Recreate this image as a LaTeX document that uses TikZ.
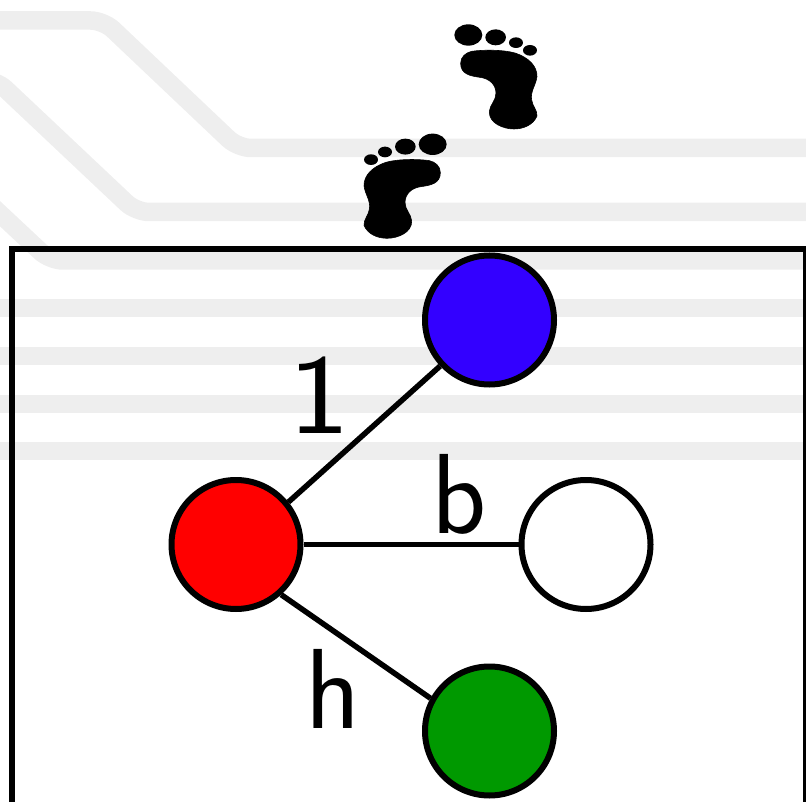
\documentclass[tikz,border=0pt]{standalone}
\usepackage{fontspec}
\usepackage{graphicx}
\setsansfont{Latin Modern Sans}
\newcommand{\footprint}{%
  \fill (385,75) ellipse [x radius=42,y radius=32];
  \fill (467,82) ellipse [x radius=31,y radius=24];
  \fill (528,98) ellipse [x radius=21,y radius=16];
  \fill (570,121) ellipse [x radius=21,y radius=16];
  \filldraw[line width=0.6pt,line join=round] (395,124) .. controls (430,119) and (490,119) .. (525,129)
    .. controls (565,142) and (592,168) .. (591,200)
    .. controls (588,225) and (570,245) .. (575,270)
    .. controls (578,290) and (592,300) .. (591,318)
    .. controls (580,345) and (550,357) .. (522,357)
    .. controls (490,357) and (447,340) .. (448,305)
    .. controls (449,285) and (468,272) .. (468,250)
    .. controls (468,225) and (450,206) .. (420,202)
    .. controls (390,198) and (362,192) .. (362,160)
    .. controls (362,140) and (378,128) .. (395,124) -- cycle;}
\tikzset{
  band/.style={line width=18.5pt,draw=bandgray,rounded corners=13pt},
  vertex/.style={circle,draw=black,line width=6pt,minimum size=129pt,inner sep=0pt},
  link/.style={line width=5.5pt,draw=black},
  lbl/.style={font=\sffamily\fontsize{114}{114}\selectfont,inner sep=0pt,anchor=base},
  frame/.style={line width=6pt,draw=black}
}
\definecolor{bandgray}{HTML}{EEEEEE}
\definecolor{vblue}{HTML}{3300FF}
\definecolor{vgreen}{HTML}{009900}
\begin{document}
\begin{tikzpicture}[x=1pt,y=-1pt]
\useasboundingbox (0,0) rectangle (806,802);
\begin{scope}
\clip (0,0) rectangle (806,802);
\draw[band] (-20,20.5) -- (103.5,20.5) -- (238,148) -- (826,148);
\draw[band] (-30,80) -- (-4,80) -- (136,212) -- (826,212);
\draw[band] (-20,195) -- (50,260.5) -- (826,260.5);
\draw[band] (-20,308) -- (826,308);
\draw[band] (-20,356) -- (826,356);
\draw[band] (-20,404) -- (826,404);
\draw[band] (-20,451) -- (826,451);
\draw[frame] (12,830) -- (12,249) -- (805.5,249) -- (805.5,830);
\begin{scope}[shift={(340,10)},x=0.3333pt,y=-0.3333pt]
\footprint
\end{scope}
\begin{scope}[shift={(340,119.3)},x=-0.3333pt,y=-0.3333pt,xshift=221pt]
\footprint
\end{scope}
\node[vertex,fill=vblue] (blue) at (489.5,320) {};
\node[vertex,fill=red] (redv) at (236,544.5) {};
\node[vertex,fill=white] (white) at (586,544.5) {};
\node[vertex,fill=vgreen] (green) at (489.5,731) {};
\draw[link] (redv.39) -- (blue.223);
\draw[link] (redv.east) -- (white.west);
\draw[link] (redv.-48) -- (green.151);
\node[lbl] (one) at (319,433) {\scalebox{1.15}[1]{1}};
\node[lbl] (bee) at (459,533) {b};
\node[lbl] (aitch) at (333,728) {h};
\end{scope}
\end{tikzpicture}
\end{document}
